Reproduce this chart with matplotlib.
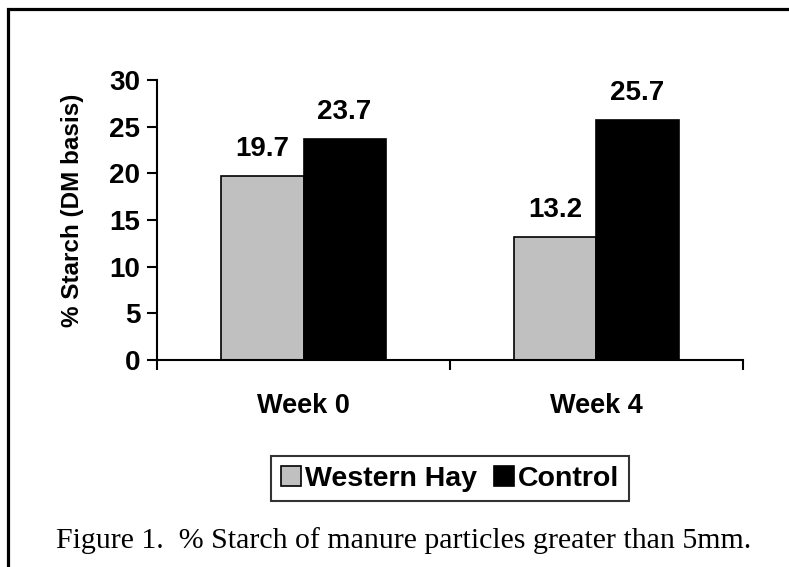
import numpy as np
import matplotlib
matplotlib.use("Agg")
import matplotlib.pyplot as plt
from matplotlib.patches import Rectangle

weeks = ["Week 0", "Week 4"]
western_hay = [19.7, 13.2]
control = [23.7, 25.7]
yticks = [0, 5, 10, 15, 20, 25, 30]

plt.rcParams['font.family'] = ['Liberation Sans', 'DejaVu Sans']

W, H = 789, 567
fig = plt.figure(figsize=(W / 100, H / 100), dpi=100)

# outer frame (runs off right and bottom edge)
fig.patches.append(Rectangle((7.5 / W, -0.1), 1.2, 1 - 8.5 / H + 0.1,
                             transform=fig.transFigure, fill=False,
                             edgecolor='black', linewidth=2.3))

ax = fig.add_axes([157 / W, (H - 360) / H, (743 - 157) / W, 280 / H])

x = np.arange(len(weeks)) + 0.5
bw = 0.28
b1 = ax.bar(x - bw / 2, western_hay, bw, color='#C0C0C0', edgecolor='black',
            linewidth=1.2, label='Western Hay')
b2 = ax.bar(x + bw / 2, control, bw, color='black', edgecolor='black',
            linewidth=1.2, label='Control')

for bars in (b1, b2):
    for r in bars:
        ax.annotate(f"{r.get_height():.1f}", (r.get_x() + r.get_width() / 2, r.get_height()),
                    xytext=(0, 10), textcoords='offset points', ha='center', va='bottom',
                    fontsize=20, fontweight='bold')

ax.set_xlim(0, 2)
ax.set_ylim(0, 30)
ax.set_yticks(yticks)
ax.set_xticks([0, 1, 2])
ax.set_xticklabels([])
ax.tick_params(axis='both', direction='out', length=7, width=1.5)
ax.tick_params(axis='y', labelsize=20, pad=5)
for lab in ax.get_yticklabels():
    lab.set_fontweight('bold')
for s in ('top', 'right'):
    ax.spines[s].set_visible(False)
for s in ('left', 'bottom'):
    ax.spines[s].set_linewidth(1.5)

for xi, w in zip(x, weeks):
    ax.text(xi, -4.95, w, ha='center', va='center', fontsize=19.5, fontweight='bold')

fig.text(73 / W, 1 - 210 / H, "% Starch (DM basis)", rotation=90, ha='center', va='center',
         fontsize=17.5, fontweight='bold')

leg = fig.legend(handles=[b1, b2], loc='center', bbox_to_anchor=(450 / W, 1 - 478.5 / H),
                 ncol=2, frameon=True, fancybox=False, edgecolor='black',
                 prop={'size': 20.5, 'weight': 'bold'}, handlelength=0.7, handleheight=0.7,
                 handletextpad=0.15, columnspacing=0.6, borderpad=0.35, borderaxespad=0)
leg.get_frame().set_linewidth(1.5)

fig.text(56 / W, 1 - 541 / H, "Figure 1.  % Starch of manure particles greater than 5mm.",
         ha='left', va='center', fontsize=21.5, family='Liberation Serif')

fig.savefig("out.png", dpi=100)
